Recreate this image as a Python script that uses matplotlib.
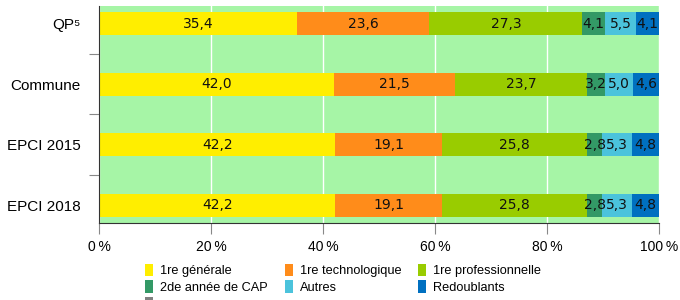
import matplotlib
matplotlib.use("Agg")
import matplotlib.pyplot as plt
import numpy as np

# données (en %)
categories = ["QP\u2075", "Commune", "EPCI 2015", "EPCI 2018"]
series = ["1re générale", "1re technologique", "1re professionnelle",
          "2de année de CAP", "Autres", "Redoublants", "s"]
generale = [35.4, 42.0, 42.2, 42.2]
techno = [23.6, 21.5, 19.1, 19.1]
pro = [27.3, 23.7, 25.8, 25.8]
cap = [4.1, 3.2, 2.8, 2.8]
autres = [5.5, 5.0, 5.3, 5.3]
redoublants = [4.1, 4.6, 4.8, 4.8]
secret = [0, 0, 0, 0]
couleurs = ["#ffee00", "#ff8c1a", "#99cc00", "#339966", "#4bc3dc", "#0070c0", "#808080"]
xticks = [0, 20, 40, 60, 80, 100]

valeurs = [generale, techno, pro, cap, autres, redoublants, secret]

fig = plt.figure(figsize=(6.8, 3.0), dpi=100)
ax = fig.add_axes([99 / 680, 1 - 223 / 300, 560 / 680, 217 / 300])
ax.set_facecolor("#a6f5a6")

y = np.arange(len(categories))
gauche = np.zeros(len(categories))
handles = []
for nom, vals, coul in zip(series, valeurs, couleurs):
    vals = np.array(vals)
    b = ax.barh(y, vals, left=gauche, height=0.38, color=coul, label=nom, zorder=2)
    handles.append(b)
    for yi, g, v in zip(y, gauche, vals):
        if v > 0:
            ax.text(g + v / 2, yi, f"{v:.1f}".replace(".", ","), ha="center", va="center",
                    fontsize=10, family="DejaVu Sans", color="#111111", zorder=3)
    gauche += vals

ax.set_xlim(0, 100)
ax.set_ylim(len(categories) - 1 + 0.29, -0.29)
ax.set_xticks(xticks)
ax.set_xticklabels([f"{t}\u2009%" for t in xticks], family=["Liberation Sans", "DejaVu Sans"], fontsize=10)
ax.set_yticks(y)
ax.set_yticklabels(categories, family=["Liberation Sans", "DejaVu Sans"], fontsize=11)
ax.tick_params(axis="y", which="major", length=0, pad=13)
ax.set_yticks([0.5, 1.5, 2.5], minor=True)
ax.tick_params(axis="y", which="minor", length=7, color="#888888", width=0.8)
ax.tick_params(axis="x", length=8, color="#888888", width=0.8, pad=4)
ax.grid(axis="x", color="white", linewidth=1, zorder=1)
ax.set_axisbelow(True)
for s in ["top", "right"]:
    ax.spines[s].set_visible(False)
ax.spines["left"].set_color("#333333")
ax.spines["bottom"].set_color("#333333")

# légende en lignes (matplotlib remplit par colonnes)
ordre = [0, 3, 6, 1, 4, 2, 5]
leg = fig.legend([handles[i] for i in ordre], [series[i] for i in ordre],
                 ncol=3, loc="upper left", bbox_to_anchor=(145 / 680, 1 - 264 / 300),
                 frameon=False, prop={"family": "Liberation Sans", "size": 9.2},
                 handlelength=0.65, handleheight=1.1, handletextpad=0.55,
                 columnspacing=1.3, labelspacing=0.22, borderpad=0, borderaxespad=0)

fig.savefig("out.png", dpi=100)
